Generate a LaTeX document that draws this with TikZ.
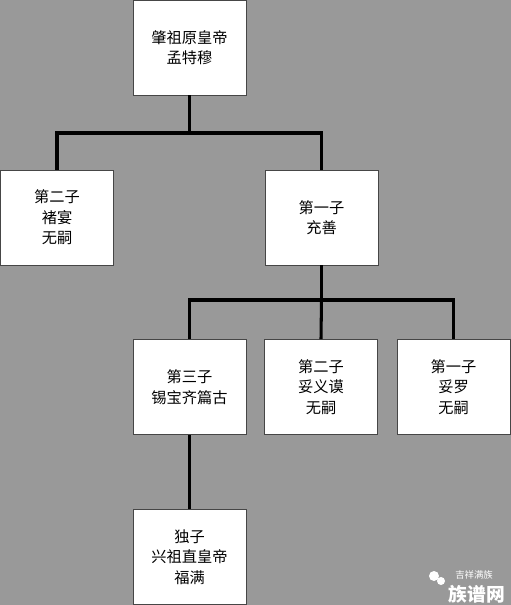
\documentclass[tikz,border=0pt]{standalone}
\usepackage{fontspec}
\newfontfamily\cjk{Noto Sans CJK SC}
\usetikzlibrary{positioning}
\definecolor{bggray}{RGB}{153,153,153}
\definecolor{boxline}{RGB}{70,70,70}

\begin{document}
\begin{tikzpicture}[x=0.03cm, y=-0.03cm,
  person/.style={draw=boxline, line width=0.8pt, fill=white, minimum width=3.39cm, minimum height=2.85cm, align=center, inner sep=0pt, font=\cjk\fontsize{13}{17.5}\selectfont},
  link/.style={line width=2.6pt}]
% Background
\fill[bggray] (0,0) rectangle (511,605);
\useasboundingbox (0,0) rectangle (511,605);
% Generation 1
\node[person] (mengtemu) at (189.5,47.5) {肇祖原皇帝\\孟特穆};
% Generation 2
\node[person] (chuyan) at (57,217.5) {第二子\\褚宴\\无嗣};
\node[person] (chongshan) at (321.5,217.5) {第一子\\充善};
% Generation 3
\node[person] (xibao) at (189.5,387) {第三子\\锡宝齐篇古};
\node[person] (tuoyimo) at (321,387) {第二子\\妥义谟\\无嗣};
\node[person] (tuoluo) at (453.5,387) {第一子\\妥罗\\无嗣};
% Generation 4
\node[person] (fuman) at (189.5,557) {独子\\兴祖直皇帝\\福满};
% Lines
\coordinate (bus1) at (mengtemu.south |- 0,133);
\coordinate (bus2) at (chongshan.south |- 0,300);
\draw[link] (mengtemu.south) -- (bus1);
\draw[link] (bus1) -| (chuyan.north);
\draw[link] (bus1) -| (chongshan.north);
\draw[link] (chongshan.south) -- (bus2);
\draw[link] (bus2) -| (xibao.north);
\draw[link] (bus2) -- (tuoyimo.north);
\draw[link] (bus2) -| (tuoluo.north);
\draw[link] (xibao.south) -- (fuman.north);
% Watermark
\fill[white] (434,576) circle (5);
\fill[white] (441,581) circle (4);
\node[text=white, inner sep=0pt, font=\cjk\fontsize{8}{9}\selectfont] (wm1) at (474,575) {吉祥满族};
\node[text=white, inner sep=0pt, font=\cjk\bfseries\fontsize{16}{18}\selectfont] (wm2) at (477,594) {族谱网};
\end{tikzpicture}
\end{document}
